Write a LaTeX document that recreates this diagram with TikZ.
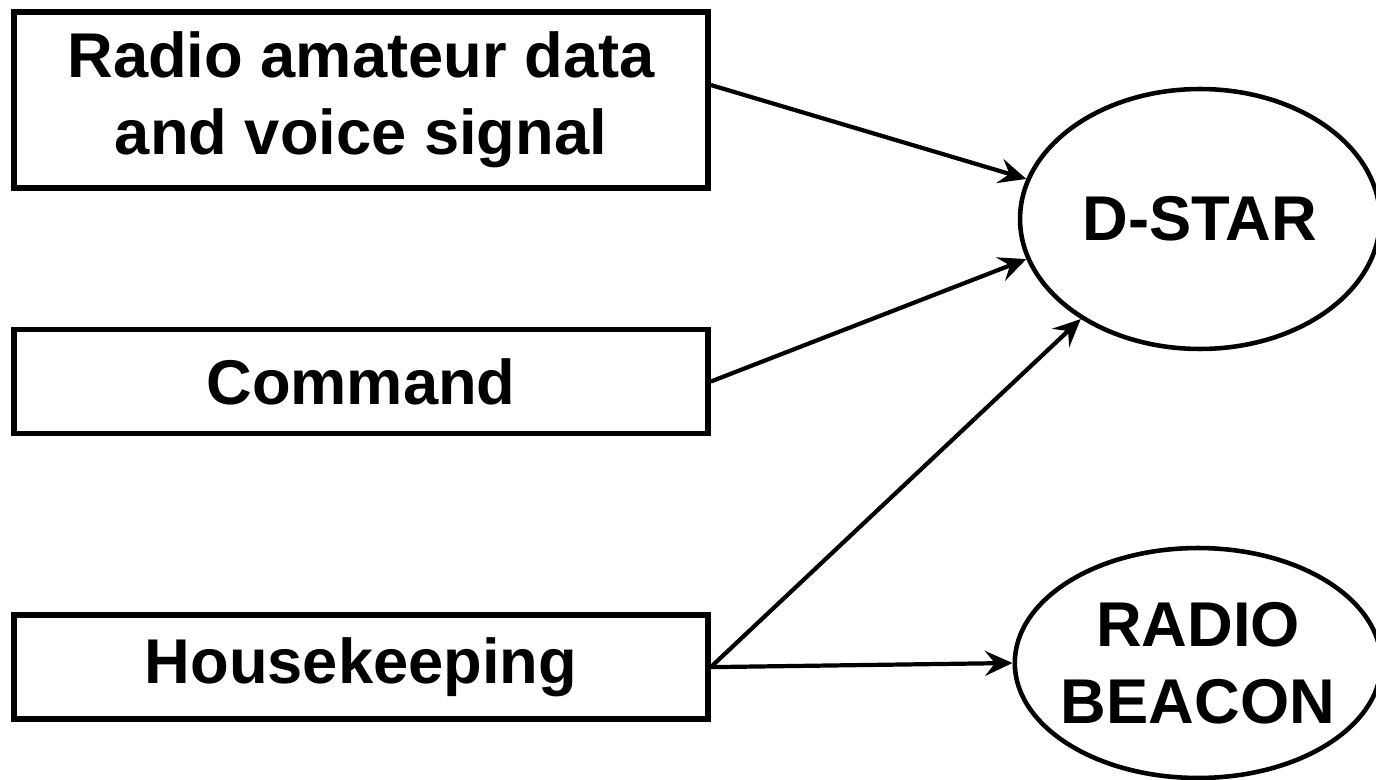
\documentclass[tikz,border=0pt]{standalone}
\usepackage{fontspec}
\setmainfont{Liberation Sans}
\usetikzlibrary{arrows.meta, positioning, shapes.geometric}

\begin{document}
\begin{tikzpicture}[x=0.02cm, y=-0.02cm]
	\tikzstyle{box} = [
	line width=3.2pt,
	draw,
	rectangle,
	minimum width=13.88cm,
	align=center,
	font=\fontsize{36}{44}\selectfont\bfseries
	]
	\tikzstyle{ell} = [
	line width=2.6pt,
	draw,
	ellipse,
	inner xsep=-0.15cm,
	inner ysep=0pt,
	minimum width=7.2cm,
	align=center,
	font=\fontsize{36}{44}\selectfont\bfseries
	]
	\tikzstyle{link} = [line width=2.4pt, -{Stealth[length=0.55cm, width=0.5cm, inset=0.2cm]}]
	
	\useasboundingbox (0,0) rectangle (1376,780);
	
	\node[box, minimum height=3.52cm] (radio) at (361,100) {Radio amateur data\\and voice signal};
	\node[box, minimum height=2.08cm, below=2.72cm of radio] (cmd) {Command};
	\node[box, minimum height=2.08cm, below=3.52cm of cmd] (hk) {Housekeeping};
	\node[ell, minimum height=5.2cm] (dstar) at (1200,219) {D-STAR};
	\node[ell, minimum height=4.6cm] (beacon) at (1198,663) {RADIO\\BEACON};
	
	\draw[link] ([yshift=0.3cm]radio.east) to (dstar.167);
	\draw[link] (cmd.east) to (dstar.193);
	\draw[link] (hk.east) to (dstar.220);
	\draw[link] (hk.east) to (beacon.west);
\end{tikzpicture}
\end{document}
